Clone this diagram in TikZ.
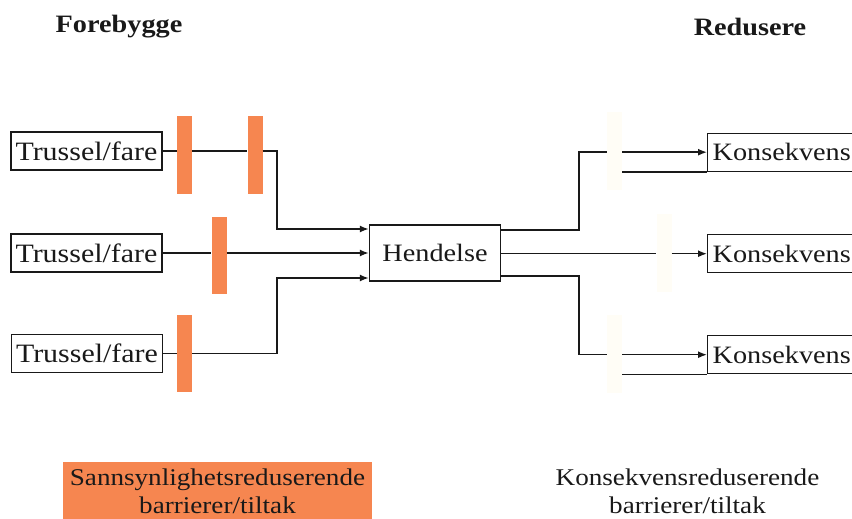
\documentclass[tikz,border=0pt]{standalone}
\usepackage{fontspec}
\setmainfont[FakeStretch=1.13]{Liberation Serif}
\usetikzlibrary{arrows.meta}
\definecolor{barorange}{RGB}{246,134,80}
\definecolor{faint}{RGB}{255,253,246}
\definecolor{ink}{RGB}{25,25,25}
\tikzset{
  lbl/.style={font=\fontsize{25}{28}\selectfont, text=ink},
  tbox/.style={lbl, font=\fontsize{26.5}{28}\selectfont, draw=ink, line width=1.4pt, minimum width=151pt, minimum height=38pt, inner sep=1pt},
  kbox/.style={lbl, draw=ink, line width=1.4pt, anchor=north west, minimum height=38pt, text width=150pt, inner xsep=5pt, inner ysep=0pt, align=left},
  barrier/.style={fill=barorange, draw=none, minimum width=15pt, minimum height=78pt, inner sep=0pt},
  fbarrier/.style={fill=faint, draw=none, minimum width=15pt, minimum height=78pt, inner sep=0pt},
  conn/.style={draw=ink, line width=1.5pt},
  arr/.style={conn, -{Latex[length=9pt,width=7pt]}},
  head/.style={font=\bfseries\fontsize{25}{28}\selectfont, text=ink},
  foot/.style={font=\fontsize{24}{28}\selectfont, text=ink, align=center}
}
\begin{document}
\begin{tikzpicture}[x=1pt,y=-1pt]
\useasboundingbox (0,0) rectangle (852,519);
\clip (0,0) rectangle (852,519);
\fill[white] (0,0) rectangle (852,519);

% headings
\node[head] (hf) at (119,27) {Forebygge};
\node[head] (hr) at (750,27) {Redusere};

% threat boxes
\node[tbox] (t1) at (86.5,151) {Trussel/fare};
\node[tbox] (t2) at (86.5,253) {Trussel/fare};
\node[tbox] (t3) at (87,353.5) {Trussel/fare};

% barriers
\node[barrier] (b1) at (184.5,155) {};
\node[barrier] (b2) at (255,155) {};
\node[barrier, minimum height=77pt] (b3) at (219,255.5) {};
\node[barrier, minimum height=77pt] (b4) at (184.5,353.5) {};

% event
\node[lbl, draw=ink, line width=1.4pt, minimum width=131pt, minimum height=56pt] (h) at (435,253) {Hendelse};

% consequence boxes
\node[kbox] (k1) at (707,132.5) {Konsekvens};
\node[kbox] (k2) at (707,234) {Konsekvens};
\node[kbox] (k3) at (707,335) {Konsekvens};

% faint barriers (right)
\node[fbarrier] (f1) at (614.5,151) {};
\node[fbarrier] (f2) at (664,253) {};
\node[fbarrier] (f3) at (614.5,354) {};

% left connectors
\coordinate (j1) at (277,229);
\coordinate (j3) at (277,278);
\draw[conn] (t1) -- (b1.west |- t1);
\draw[conn] (b1.east |- t1) -- (b2.west |- t1);
\draw[arr] (b2.east |- t1) -| (j1) -- (j1 -| h.west);
\draw[conn] (t2) -- (b3.west |- t2);
\draw[arr] (b3.east |- t2) -- (h.west |- t2);
\draw[conn] (t3) -- (b4.west |- t3);
\draw[arr] (b4.east |- t3) -| (j3) -- (j3 -| h.west);

% right connectors
\coordinate (r1) at (579,230);
\coordinate (r3) at (579,276);
\draw[conn] (h.east |- r1) -- (r1) |- (f1.west |- k1);
\draw[arr] (f1.east |- k1) -- (k1.west);
\draw[conn] (f1.east |- k1.south) -- (k1.south west);
\draw[conn] (h.east |- k2) -- (f2.west |- k2);
\draw[arr] (f2.east |- k2) -- (k2.west);
\draw[conn] (h.east |- r3) -- (r3) |- (f3.west |- k3);
\draw[arr] (f3.east |- k3) -- (k3.west);
\draw[conn] (f3.east |- k3.south) -- (k3.south west);

% footer labels
\node[fill=barorange, minimum width=309pt, minimum height=62pt, anchor=north west, inner sep=0pt] (lf) at (63,462) {};
\node[foot] (lft) at (217.5,491) {Sannsynlighetsreduserende\\barrierer/tiltak};
\node[foot] (rft) at (687.5,491) {Konsekvensreduserende\\barrierer/tiltak};
\end{tikzpicture}
\end{document}
